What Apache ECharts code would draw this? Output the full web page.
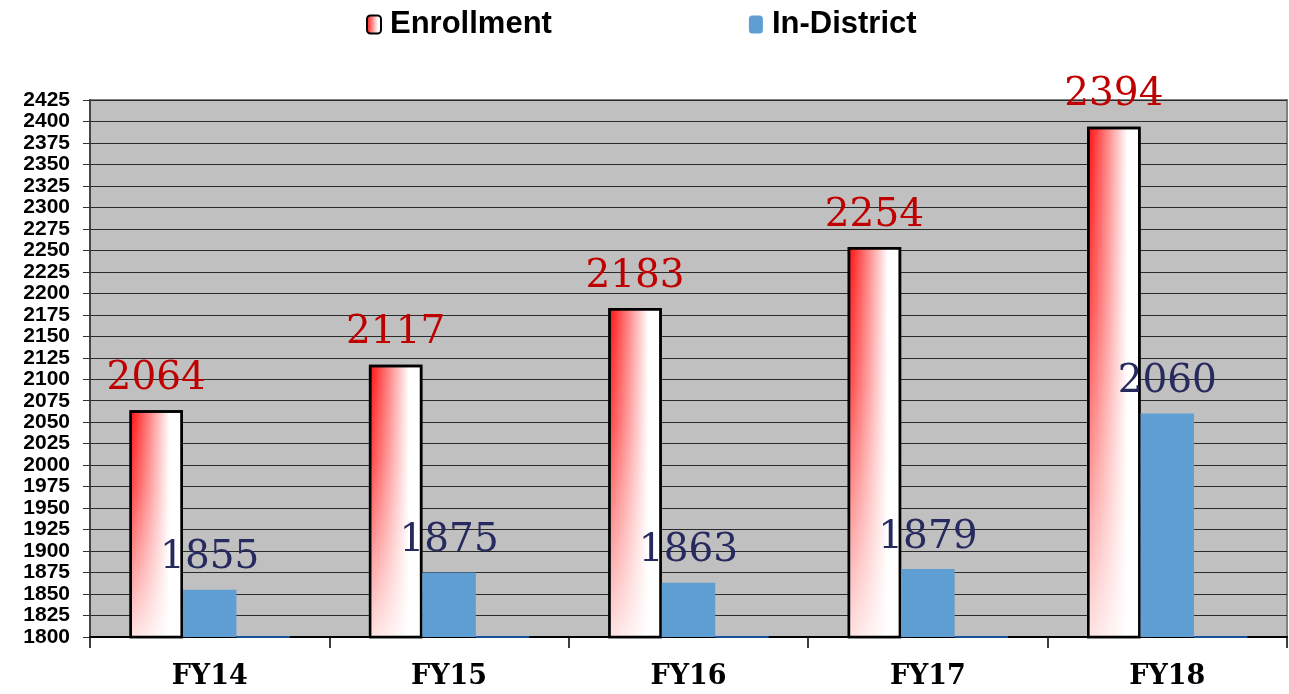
<!DOCTYPE html>
<html>
<head>
<meta charset="utf-8">
<script src="https://cdn.jsdelivr.net/npm/echarts@6/dist/echarts.min.js"></script>
<style>html,body{margin:0;padding:0;background:#fff;}#c{width:1289px;height:694px;}</style>
</head>
<body>
<div id="c"></div>
<script>
const categories = ['FY14', 'FY15', 'FY16', 'FY17', 'FY18'];
const enrollment = [2064, 2117, 2183, 2254, 2394];
const inDistrict = [1855, 1875, 1863, 1879, 2060];
const thirdSeries = [1801, 1801, 1801, 1801, 1801];
const yMin = 1800, yMax = 2425, yStep = 25;

const chart = echarts.init(document.getElementById('c'));
const gap = '33%';
const redGrad = new echarts.graphic.LinearGradient(0, 0, 1, 0, [
  {offset: 0, color: '#ff0a0a'},
  {offset: 0.2, color: '#ff4a4a'},
  {offset: 0.75, color: '#ffffff'},
  {offset: 1, color: '#ffffff'}
]);
const fade = new echarts.graphic.LinearGradient(0, 0, 0, 1, [
  {offset: 0, color: 'rgba(255,255,255,0)'},
  {offset: 0.35, color: 'rgba(255,255,255,0.22)'},
  {offset: 1, color: 'rgba(255,255,255,0.88)'}
]);
const valAxisBase = {
  type: 'value', min: yMin, max: yMax, interval: yStep
};
chart.setOption({
  animation: false,
  legend: {
    data: ['Enrollment', 'In-District'],
    left: 361, top: 4,
    itemWidth: 14, itemHeight: 18, itemGap: 197,
    textStyle: {fontFamily: 'Liberation Sans', fontWeight: 'bold', fontSize: 31, color: '#000', padding: [0, 0, 0, 4]}
  },
  grid: {
    left: 90, right: 2, top: 100, bottom: 57,
    show: true, backgroundColor: '#c0c0c0', borderColor: '#808080', borderWidth: 2
  },
  xAxis: [{
    type: 'category', data: categories,
    axisLine: {lineStyle: {color: '#000', width: 2}},
    axisTick: {show: true, length: 11, lineStyle: {color: '#000', width: 1.5}},
    axisLabel: {fontFamily: 'DejaVu Serif', fontWeight: 'bold', fontSize: 27, color: '#000', margin: 26}
  }, {
    type: 'category', data: categories, show: false
  }],
  yAxis: [Object.assign({}, valAxisBase, {
    axisLine: {show: true, lineStyle: {color: '#333', width: 1.5}},
    axisTick: {show: true, length: 7, lineStyle: {color: '#333'}},
    axisLabel: {fontFamily: 'Liberation Sans', fontWeight: 'bold', fontSize: 21, color: '#000', margin: 20,
      formatter: function (v) { return String(v); }},
    splitLine: {lineStyle: {color: '#2a2a2a', width: 1.2}}
  }), Object.assign({}, valAxisBase, {show: false, splitLine: {show: false}})],
  series: [
    {
      name: 'Enrollment', type: 'bar', data: enrollment,
      barGap: 0, barCategoryGap: gap,
      itemStyle: {color: redGrad, borderColor: '#000', borderWidth: 2.5},
      label: {show: true, position: 'top', distance: 12, color: '#c00000', fontFamily: 'DejaVu Serif', fontSize: 39}
    },
    {
      name: 'In-District', type: 'bar', data: inDistrict, z: 3,
      barGap: 0, barCategoryGap: gap,
      itemStyle: {color: '#5f9ed3'},
      label: {show: true, position: 'top', distance: 12, color: '#262a5e', fontFamily: 'DejaVu Serif', fontSize: 39}
    },
    {
      name: 'Third', type: 'bar', data: thirdSeries, z: 4,
      barGap: 0, barCategoryGap: gap,
      itemStyle: {color: '#1f6fd0', borderColor: '#1f6fd0', borderWidth: 1.5}
    },
    {
      name: 'EnrollmentFade', type: 'bar', data: enrollment, xAxisIndex: 1, yAxisIndex: 1,
      barGap: 0, barCategoryGap: gap, silent: true,
      itemStyle: {color: fade, borderColor: '#000', borderWidth: 2.5}
    },
    {name: 'p1', type: 'bar', data: [null, null, null, null, null], xAxisIndex: 1, yAxisIndex: 1, barGap: 0, barCategoryGap: gap},
    {name: 'p2', type: 'bar', data: [null, null, null, null, null], xAxisIndex: 1, yAxisIndex: 1, barGap: 0, barCategoryGap: gap}
  ]
});
</script>
</body>
</html>
